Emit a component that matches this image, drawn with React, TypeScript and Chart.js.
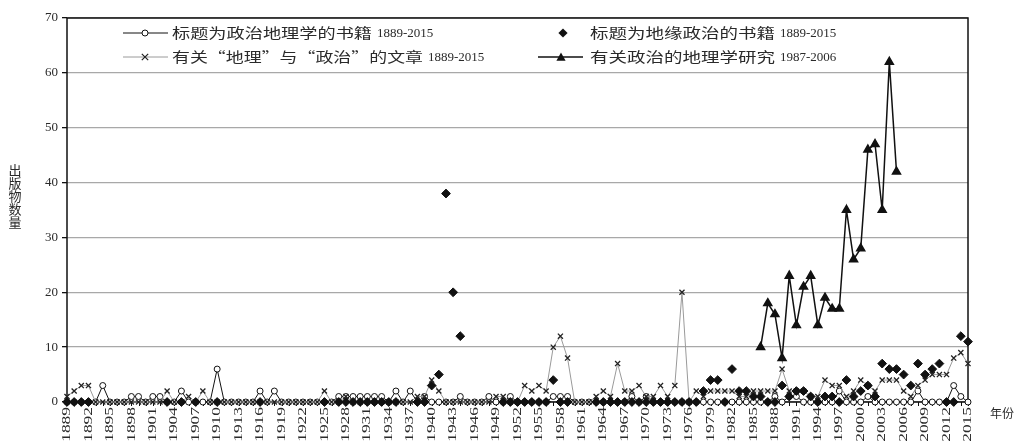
import React, { useEffect, useRef } from 'react';
import { Chart, registerables } from 'chart.js';

Chart.register(...registerables);

// ---------- DATA ----------
const FIRST_YEAR = 1889;
const LAST_YEAR = 2015;
const YEARS: string[] = Array.from({ length: LAST_YEAR - FIRST_YEAR + 1 }, (_, i) => String(FIRST_YEAR + i));

const TICK_YEARS: string[] = [
  '1889', '1892', '1895', '1898', '1901', '1904', '1907', '1910', '1913', '1916', '1919', '1922', '1925', '1928',
  '1931', '1934', '1937', '1940', '1943', '1946', '1949', '1952', '1955', '1958', '1961', '1964', '1967', '1970',
  '1973', '1976', '1979', '1982', '1985', '1988', '1991', '1994', '1997', '2000', '2003', '2006', '2009', '2012', '2015',
];

// 标题为政治地理学的书籍 1889-2015 (one value per year 1889..2015)
const POLGEO_BOOKS: number[] = [
  0,
  0, 0, 0, 0, 3, 0, 0, 0, 1, 1,
  0, 1, 1, 0, 0, 2, 0, 0, 0, 0,
  6, 0, 0, 0, 0, 0, 2, 0, 2, 0,
  0, 0, 0, 0, 0, 0, 0, 1, 1, 1,
  1, 1, 1, 1, 0, 2, 0, 2, 0, 1,
  0, 0, 0, 0, 1, 0, 0, 0, 1, 0,
  0, 1, 0, 0, 0, 0, 0, 1, 1, 1,
  0, 0, 0, 0, 0, 0, 0, 0, 1, 0,
  1, 0, 0, 0, 0, 0, 0, 0, 0, 0,
  0, 0, 0, 0, 0, 0, 0, 0, 1, 0,
  1, 1, 0, 0, 0, 0, 0, 2, 0, 0,
  0, 1, 0, 0, 0, 0, 0, 0, 2, 0,
  0, 0, 0, 3, 1, 0,
];

// 标题为地缘政治的书籍 1889-2015 (null = no mark)
const GEOPOL_BOOKS: (number | null)[] = [
  0,
  0, 0, 0, null, null, null, null, null, null, null,
  null, null, null, 0, null, 0, null, 0, null, null,
  0, null, null, null, null, null, 0, null, null, null,
  null, null, null, null, null, 0, null, 0, 0, 0,
  0, 0, 0, 0, 0, 0, null, null, 0, 0,
  3, 5, 38, 20, 12, null, null, null, null, null,
  0, 0, 0, 0, 0, 0, 0, 4, 0, 0,
  null, null, null, 0, 0, 0, 0, 0, 0, 0,
  0, 0, 0, 0, 0, 0, 0, 0, 2, 4,
  4, 0, 6, 2, 2, 1, 1, 0, 0, 3,
  1, 2, 2, 1, 0, 1, 1, 0, 4, 1,
  2, 3, 1, 7, 6, 6, 5, 3, 7, 5,
  6, 7, 0, 0, 12, 11,
];

// 有关“地理”与“政治”的文章 1889-2015
const ARTICLES: number[] = [
  1,
  2, 3, 3, 0, 0, 0, 0, 0, 0, 0,
  0, 0, 0, 2, 0, 0, 1, 0, 2, 0,
  0, 0, 0, 0, 0, 0, 0, 0, 0, 0,
  0, 0, 0, 0, 0, 2, 0, 0, 1, 0,
  0, 0, 0, 0, 0, 0, 0, 0, 1, 1,
  4, 2, 0, 0, 0, 0, 0, 0, 0, 1,
  1, 0, 0, 3, 2, 3, 2, 10, 12, 8,
  0, 0, 0, 1, 2, 1, 7, 2, 2, 3,
  1, 1, 3, 1, 3, 20, 0, 2, 1, 2,
  2, 2, 2, 1, 1, 2, 2, 2, 2, 6,
  2, 2, 2, 1, 1, 4, 3, 3, 1, 2,
  4, 3, 2, 4, 4, 4, 2, 1, 3, 4,
  5, 5, 5, 8, 9, 7,
];

// 有关政治的地理学研究 (values placed from RESEARCH_START_YEAR on)
const RESEARCH_START_YEAR = 1986;
const RESEARCH: number[] = [10, 18, 16, 8, 23, 14, 21, 23, 14, 19, 17, 17, 35, 26, 28, 46, 47, 35, 62, 42];

const LEGEND_NAMES: string[] = ['标题为政治地理学的书籍', '标题为地缘政治的书籍', '有关“地理”与“政治”的文章', '有关政治的地理学研究'];
const LEGEND_SPANS: string[] = ['1889-2015', '1889-2015', '1889-2015', '1987-2006'];
const Y_TITLE = '出版物数量';
const X_TITLE = '年份';

// ---------- STYLE ----------
const SERIF = "'Liberation Serif', 'Times New Roman', serif";
const CJK = "'Noto Sans CJK SC', 'Liberation Serif', sans-serif";
const TEXT = '#2a2a2a';

function drawCircle(ctx: CanvasRenderingContext2D, x: number, y: number) {
  ctx.beginPath();
  ctx.arc(x, y, 3, 0, Math.PI * 2);
  ctx.fillStyle = '#fff';
  ctx.fill();
  ctx.lineWidth = 1;
  ctx.strokeStyle = '#111';
  ctx.stroke();
}
function drawCross(ctx: CanvasRenderingContext2D, x: number, y: number) {
  const r = 3.2;
  ctx.beginPath();
  ctx.moveTo(x - r, y - r); ctx.lineTo(x + r, y + r);
  ctx.moveTo(x + r, y - r); ctx.lineTo(x - r, y + r);
  ctx.lineWidth = 1.2;
  ctx.strokeStyle = '#222';
  ctx.stroke();
}
function drawDiamond(ctx: CanvasRenderingContext2D, x: number, y: number) {
  const r = 4.6;
  ctx.beginPath();
  ctx.moveTo(x, y - r); ctx.lineTo(x + r, y); ctx.lineTo(x, y + r); ctx.lineTo(x - r, y);
  ctx.closePath();
  ctx.fillStyle = '#111';
  ctx.fill();
}
function drawTriangle(ctx: CanvasRenderingContext2D, x: number, y: number) {
  const r = 4.6;
  ctx.beginPath();
  ctx.moveTo(x, y - r); ctx.lineTo(x + r, y + r * 0.8); ctx.lineTo(x - r, y + r * 0.8);
  ctx.closePath();
  ctx.fillStyle = '#111';
  ctx.fill();
}
function drawStretched(ctx: CanvasRenderingContext2D, text: string, x: number, y: number, width: number) {
  const w = ctx.measureText(text).width;
  ctx.save();
  ctx.translate(x, y);
  ctx.scale(width / w, 1);
  ctx.fillText(text, 0, 0);
  ctx.restore();
}

const framePlugin = {
  id: 'frame',
  beforeDatasetsDraw(chart: any) {
    const { ctx, chartArea: a, scales } = chart;
    const xs = scales.x;
    ctx.save();
    ctx.strokeStyle = '#111';
    ctx.lineWidth = 1.5;
    ctx.strokeRect(a.left, a.top, a.right - a.left, a.bottom - a.top);
    ctx.lineWidth = 1;
    ctx.beginPath();
    YEARS.forEach((_, i) => {
      const x = Math.round(xs.getPixelForValue(i)) + 0.5;
      ctx.moveTo(x, a.bottom);
      ctx.lineTo(x, a.bottom + 4);
    });
    ctx.stroke();
    ctx.restore();
  },
  afterDraw(chart: any) {
    const { ctx, chartArea: a, scales } = chart;
    const xs = scales.x;
    ctx.save();
    ctx.fillStyle = TEXT;

    // x tick labels (rotated, stretched along their length)
    ctx.font = `12px ${SERIF}`;
    ctx.textAlign = 'right';
    ctx.textBaseline = 'middle';
    TICK_YEARS.forEach((lab) => {
      const i = YEARS.indexOf(lab);
      const x = xs.getPixelForValue(i);
      ctx.save();
      ctx.translate(x, a.bottom + 5);
      ctx.rotate(-Math.PI / 2);
      ctx.scale(1.45, 1);
      ctx.fillText(lab, 0, 0);
      ctx.restore();
    });

    // x title
    ctx.textAlign = 'center';
    ctx.font = `12px ${CJK}`;
    ctx.fillText(X_TITLE, 1002, 413);

    // y title (stacked characters, upright)
    ctx.font = `13px ${CJK}`;
    ctx.textAlign = 'center';
    ctx.textBaseline = 'middle';
    Array.from(Y_TITLE).forEach((ch, k) => {
      ctx.fillText(ch, 15, 170 + k * 13);
    });

    // legend
    const rows = [
      { name: 0, x0: 172, cjkW: 200, numX: 377, y: 33 },
      { name: 1, x0: 590, cjkW: 185, numX: 780, y: 33 },
      { name: 2, x0: 172, cjkW: 251, numX: 428, y: 57 },
      { name: 3, x0: 590, cjkW: 185, numX: 780, y: 57 },
    ];
    ctx.textAlign = 'left';
    rows.forEach((r) => {
      ctx.fillStyle = TEXT;
      ctx.font = `14px ${CJK}`;
      drawStretched(ctx, LEGEND_NAMES[r.name], r.x0, r.y, r.cjkW);
      ctx.font = `13px ${SERIF}`;
      ctx.fillText(LEGEND_SPANS[r.name], r.numX, r.y + 1);
    });
    // legend samples
    ctx.lineWidth = 1;
    ctx.strokeStyle = '#111';
    ctx.beginPath(); ctx.moveTo(123, 33); ctx.lineTo(168, 33); ctx.stroke();
    drawCircle(ctx, 145, 33);
    drawDiamond(ctx, 563, 33);
    ctx.strokeStyle = '#9a9a9a';
    ctx.lineWidth = 1;
    ctx.beginPath(); ctx.moveTo(123, 57); ctx.lineTo(168, 57); ctx.stroke();
    drawCross(ctx, 145, 57);
    ctx.strokeStyle = '#111';
    ctx.lineWidth = 1.5;
    ctx.beginPath(); ctx.moveTo(538, 57); ctx.lineTo(583, 57); ctx.stroke();
    drawTriangle(ctx, 561, 57);
    ctx.restore();
  },
};

export default function App() {
  const ref = useRef<HTMLCanvasElement | null>(null);

  useEffect(() => {
    if (!ref.current) return;
    const researchAligned = YEARS.map((y) => {
      const k = Number(y) - RESEARCH_START_YEAR;
      return k >= 0 && k < RESEARCH.length ? RESEARCH[k] : null;
    });

    const chart = new Chart(ref.current, {
      type: 'line',
      data: {
        labels: YEARS,
        datasets: [
          {
            label: LEGEND_NAMES[3],
            data: researchAligned,
            borderColor: '#111',
            borderWidth: 1.5,
            pointStyle: 'triangle',
            pointRadius: 4.6,
            pointBackgroundColor: '#111',
            pointBorderColor: '#111',
            spanGaps: false,
            clip: false as any,
            order: 0,
          },
          {
            label: LEGEND_NAMES[1],
            data: GEOPOL_BOOKS,
            showLine: false,
            pointStyle: 'rectRot',
            pointRadius: 4.4,
            pointBackgroundColor: '#111',
            pointBorderColor: '#111',
            pointBorderWidth: 1,
            clip: false as any,
            order: 1,
          },
          {
            label: LEGEND_NAMES[2],
            data: ARTICLES,
            borderColor: '#9a9a9a',
            borderWidth: 1,
            pointStyle: 'crossRot',
            pointRadius: 3.6,
            pointBorderColor: '#222',
            pointBorderWidth: 1.3,
            clip: false as any,
            order: 2,
          },
          {
            label: LEGEND_NAMES[0],
            data: POLGEO_BOOKS,
            borderColor: '#111',
            borderWidth: 1,
            pointStyle: 'circle',
            pointRadius: 3,
            pointBackgroundColor: '#fff',
            pointBorderColor: '#111',
            pointBorderWidth: 1,
            clip: false as any,
            order: 3,
          },
        ],
      },
      options: {
        animation: false,
        responsive: true,
        maintainAspectRatio: false,
        layout: { padding: { left: 0, right: 56, top: 18, bottom: 0 } },
        plugins: { legend: { display: false }, tooltip: { enabled: false } },
        elements: { line: { tension: 0 } },
        scales: {
          x: {
            type: 'category',
            offset: false,
            grid: { display: false },
            border: { display: false },
            ticks: { display: false },
            afterFit: (s: any) => { s.height = 45; },
          },
          y: {
            min: 0,
            max: 70,
            ticks: {
              stepSize: 10,
              color: TEXT,
              font: { family: SERIF, size: 13 },
              padding: 4,
            },
            grid: {
              color: '#a8a8a8',
              lineWidth: 1.3,
              tickLength: 5,
              tickColor: '#111',
            },
            border: { display: false },
            afterFit: (s: any) => { s.width = 67; },
          },
        },
      },
      plugins: [framePlugin],
    });
    return () => chart.destroy();
  }, []);

  return (
    <div style={{ position: 'absolute', left: 0, top: 0, width: 1024, height: 447, background: '#fff' }}>
      <canvas ref={ref} />
    </div>
  );
}
